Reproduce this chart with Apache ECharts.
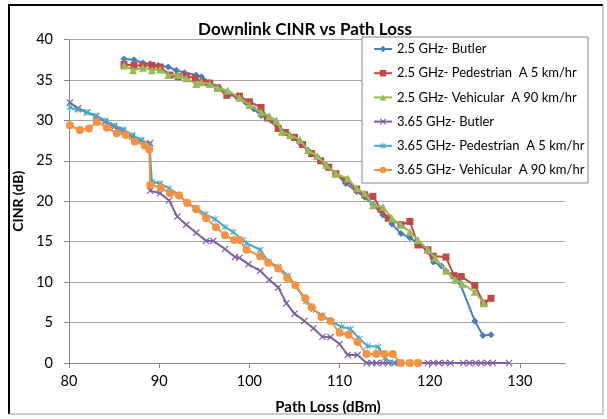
<!DOCTYPE html>
<html>
<head>
<meta charset="utf-8">
<script src="https://cdn.jsdelivr.net/npm/echarts@6/dist/echarts.min.js"></script>
<style>html,body{margin:0;padding:0;background:#fff}#c{width:607px;height:419px}</style>
</head>
<body>
<div id="c"></div>
<script>
// ---- data ([path loss dBm, CINR dB]) ----
var seriesNames = [
  '2.5 GHz- Butler',
  '2.5 GHz- Pedestrian  A 5 km/hr',
  '2.5 GHz- Vehicular  A 90 km/hr',
  '3.65 GHz- Butler',
  '3.65 GHz- Pedestrian  A 5 km/hr',
  '3.65 GHz- Vehicular  A 90 km/hr'
];
var butler25 = [[86.1,37.6],[87.2,37.5],[88.2,37.1],[89.0,37.0],[89.9,36.8],[91.0,36.6],[91.9,36.2],[92.8,35.9],[94.1,35.6],[94.7,35.4],[95.6,34.7],[96.6,34.1],[97.6,33.5],[98.6,32.9],[99.6,32.2],[100.5,31.4],[101.3,30.6],[102.4,30.0],[103.5,28.8],[104.5,28.1],[105.6,27.2],[106.5,26.3],[107.5,25.5],[108.5,24.5],[109.6,23.4],[110.7,22.2],[111.9,21.2],[112.8,20.5],[113.7,19.6],[114.8,18.3],[115.8,17.2],[116.8,16.0],[117.8,15.5],[118.7,14.8],[119.8,13.8],[120.4,12.5],[121.3,12.0],[121.8,11.4],[122.5,10.8],[123.3,10.0],[125.0,5.2],[125.9,3.4],[126.8,3.5]];
var ped25 = [[86.1,36.9],[87.2,36.8],[88.2,36.8],[89.2,36.8],[90.1,36.6],[91.2,35.6],[92.1,35.4],[93.0,35.5],[94.0,35.2],[94.9,34.7],[95.6,34.6],[96.5,34.0],[97.5,33.1],[98.9,33.0],[100.0,32.3],[101.3,31.6],[102.0,30.3],[103.2,29.0],[104.0,28.5],[105.0,27.9],[105.9,27.0],[106.9,25.9],[107.9,25.0],[108.8,24.2],[109.6,23.4],[110.7,22.6],[111.9,21.5],[112.8,20.8],[113.7,20.6],[114.6,19.0],[115.4,17.9],[116.8,17.1],[117.8,17.5],[118.7,14.6],[119.8,14.0],[120.4,13.2],[121.8,13.1],[122.7,10.8],[123.5,10.7],[125.0,9.6],[126.0,7.4],[126.8,8.0]];
var veh25 = [[86.1,36.8],[87.1,36.2],[88.2,36.5],[89.2,36.2],[90.1,36.3],[91.0,35.6],[92.1,35.6],[93.0,35.2],[94.1,34.5],[94.7,34.7],[95.6,34.5],[96.5,34.0],[97.6,33.7],[98.9,32.8],[100.0,31.9],[101.3,31.0],[102.2,30.5],[103.0,30.0],[103.6,28.6],[104.5,28.2],[105.6,27.6],[106.5,26.3],[107.5,25.6],[108.5,24.5],[109.6,23.4],[110.9,22.8],[111.9,21.6],[112.8,21.0],[113.7,19.5],[114.8,19.3],[115.8,17.9],[116.8,17.1],[117.8,16.2],[118.7,15.2],[119.8,14.0],[120.6,13.0],[121.8,11.4],[122.8,10.3],[123.6,9.8],[125.0,8.8],[126.0,7.4]];
var butler365 = [[80.1,32.2],[81.0,31.5],[82.0,31.0],[83.0,30.5],[84.0,29.8],[85.0,29.2],[86.0,28.7],[87.0,28.0],[88.0,27.5],[89.0,27.2],[89.0,21.3],[90.1,21.0],[91.1,20.1],[92.0,18.1],[93.0,17.1],[94.1,16.1],[95.2,15.1],[96.0,15.1],[97.3,14.1],[98.4,13.1],[98.9,13.0],[99.9,12.2],[101.2,11.4],[102.2,10.3],[103.2,9.35],[104.1,7.4],[105.0,6.1],[106.1,5.2],[107.1,4.3],[108.1,3.25],[109.0,3.2],[110.0,2.35],[110.9,1.0],[112.0,1.0],[113.0,0],[113.6,0],[114.1,0],[114.8,0],[115.4,0],[116.1,0],[116.8,0],[117.8,0],[118.7,0],[119.8,0],[120.4,0],[121.0,0],[121.7,0],[122.3,0],[123.7,0],[124.4,0],[125.1,0],[125.7,0],[126.4,0],[127.0,0],[128.8,0]];
var ped365 = [[80.1,31.6],[81.0,31.3],[82.0,31.0],[83.0,30.6],[84.0,30.0],[85.0,29.4],[86.0,28.9],[87.0,28.2],[88.0,27.6],[88.9,27.0],[89.2,22.4],[90.1,22.2],[91.1,21.6],[92.2,20.8],[93.1,19.7],[94.1,19.2],[95.1,18.4],[96.2,17.8],[97.3,16.8],[98.2,16.2],[99.3,15.2],[99.7,14.8],[101.2,14.0],[102.1,12.5],[103.2,11.9],[104.3,10.8],[105.1,9.6],[106.3,7.6],[107.1,6.6],[108.1,5.9],[109.1,5.1],[110.2,4.5],[111.2,4.2],[112.2,3.0],[113.1,2.1],[114.3,2.0],[115.0,0.6],[115.9,0]];
var veh365 = [[80.1,29.4],[81.2,28.8],[82.2,29.0],[83.1,29.8],[84.2,29.1],[85.3,28.4],[86.3,28.2],[87.3,27.4],[88.4,26.9],[88.9,26.4],[89.0,22.0],[90.2,21.7],[91.2,21.0],[92.2,20.7],[93.1,19.8],[94.1,19.0],[95.2,17.9],[96.3,16.8],[97.3,15.8],[98.3,15.2],[98.9,15.2],[99.7,14.0],[101.2,13.2],[102.1,12.4],[103.2,11.7],[104.2,10.5],[105.1,9.6],[106.2,8.0],[106.9,6.9],[108.0,5.7],[109.0,5.2],[110.0,3.75],[111.0,3.5],[112.0,2.6],[113.0,1.1],[114.1,1.1],[115.0,1.1],[115.9,1.1],[116.8,0],[117.8,0],[118.7,0]];
var xTicks = [80, 90, 100, 110, 120, 130];

var FONT = 'Lato, "Open Sans", sans-serif';
var colors = ['#4A7EBB', '#BE4B48', '#98B954', '#7D60A0', '#46AAC5', '#F69240'];
var crossPath = 'path://M0,1.2L1.2,0L5,3.8L8.8,0L10,1.2L6.2,5L10,8.8L8.8,10L5,6.2L1.2,10L0,8.8L3.8,5Z';
var starPath = 'path://M0,1.2L1.2,0L5,3.8L8.8,0L10,1.2L6.2,5L10,8.8L8.8,10L5,6.2L1.2,10L0,8.8L3.8,5Z M4.4,-1L5.6,-1L5.6,11L4.4,11Z';
var symbols = ['diamond', 'rect', 'triangle', crossPath, starPath, 'circle'];
var sizes = [7, 7, 8, 7, 7, 8];
var dataSets = [butler25, ped25, veh25, butler365, ped365, veh365];

var series = dataSets.map(function (d, i) {
  return {
    name: seriesNames[i],
    type: 'line',
    data: d,
    symbol: symbols[i],
    symbolSize: sizes[i],
    showAllSymbol: true,
    lineStyle: { color: colors[i], width: 2 },
    itemStyle: { color: colors[i] },
    emphasis: { disabled: true },
    animation: false,
    z: 2 + i
  };
});

var chart = echarts.init(document.getElementById('c'), null, { renderer: 'canvas' });
chart.setOption({
  animation: false,
  backgroundColor: '#fff',
  title: {
    text: 'Downlink CINR vs Path Loss',
    left: 300, top: 16, textAlign: 'center',
    textStyle: { fontFamily: FONT, fontSize: 17, fontWeight: 'bold', color: '#000' }
  },
  grid: { left: 69, right: 42, top: 39.5, bottom: 56, containLabel: false, outerBoundsMode: 'none' },
  xAxis: {
    type: 'value', min: 80, max: 135, interval: 10,
    name: 'Path Loss (dBm)', nameLocation: 'middle', nameGap: 37,
    nameTextStyle: { fontFamily: FONT, fontSize: 15, fontWeight: 'bold', color: '#000', padding: [0, 0, 0, 22] },
    axisLine: { show: true, lineStyle: { color: '#868686', width: 1 } },
    axisTick: { show: true, length: 5, lineStyle: { color: '#868686' }, customValues: xTicks },
    axisLabel: {
      fontFamily: FONT, fontSize: 14.5, color: '#000', margin: 11,
      formatter: function (v) { return xTicks.indexOf(v) >= 0 ? String(v) : ''; }
    },
    splitLine: { show: false }
  },
  yAxis: {
    type: 'value', min: 0, max: 40, interval: 5,
    name: 'CINR (dB)', nameLocation: 'middle', nameGap: 37,
    nameTextStyle: { fontFamily: FONT, fontSize: 14, fontWeight: 'bold', color: '#000' },
    axisLine: { show: true, lineStyle: { color: '#868686', width: 1 } },
    axisTick: { show: true, length: 5, lineStyle: { color: '#868686' } },
    axisLabel: { fontFamily: FONT, fontSize: 14.5, color: '#000', margin: 16 },
    splitLine: { show: true, lineStyle: { color: '#A6A6A6', width: 1 } }
  },
  legend: {
    data: seriesNames,
    orient: 'vertical',
    left: 373, top: 42,
    padding: 0,
    itemWidth: 18, itemHeight: 8, itemGap: 10.2,
    textStyle: { fontFamily: FONT, fontSize: 13, color: '#000', lineHeight: 14 },
    selectedMode: false,
    z: 10
  },
  graphic: [
    { type: 'rect', shape: { x: 362, y: 37, width: 226, height: 146 },
      style: { fill: '#fff', stroke: '#868686', lineWidth: 1 }, z: 5, silent: true },
    { type: 'polyline', shape: { points: [[9, 414], [9, 5], [603, 5]] },
      style: { stroke: '#000', lineWidth: 2, fill: null }, z: 5, silent: true },
    { type: 'polyline', shape: { points: [[603, 5], [603, 414], [9, 414]] },
      style: { stroke: '#9a9a9a', lineWidth: 1, fill: null }, z: 5, silent: true }
  ],
  series: series
});
</script>
</body>
</html>
